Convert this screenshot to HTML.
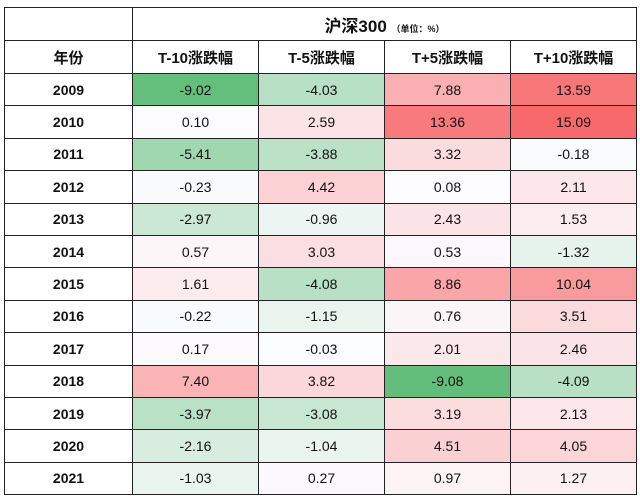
<!DOCTYPE html>
<html><head><meta charset="utf-8">
<style>
html,body{margin:0;padding:0;background:#fff;width:640px;height:500px;overflow:hidden}
#t{position:absolute;left:4px;top:7px;border-collapse:collapse;font-family:"Liberation Sans","Noto Sans CJK SC",sans-serif;color:#111;table-layout:fixed}
#t td{border:1px solid #222;text-align:center;padding:0;font-size:14px}
#t td.h{font-weight:bold;font-size:15px}
#t td.y{font-weight:bold;font-size:14px}
.small{font-size:9px;font-weight:bold}
</style></head><body>
<table id="t">
<colgroup><col style="width:128px"><col style="width:126px"><col style="width:126px"><col style="width:126px"><col style="width:126px"></colgroup>
<tr style="height:33px"><td></td><td colspan="4" class="h" style="font-size:17px">沪深300 <span class="small">（单位：%）</span></td></tr>
<tr style="height:33px" id="hdr"><td class="h">年份</td></tr>
</table>
<script>
const years=['2009','2010','2011','2012','2013','2014','2015','2016','2017','2018','2019','2020','2021'];
const columns=['T-10涨跌幅','T-5涨跌幅','T+5涨跌幅','T+10涨跌幅'];
const t10=[-9.02,0.10,-5.41,-0.23,-2.97,0.57,1.61,-0.22,0.17,7.40,-3.97,-2.16,-1.03];
const t5=[-4.03,2.59,-3.88,4.42,-0.96,3.03,-4.08,-1.15,-0.03,3.82,-3.08,-1.04,0.27];
const tp5=[7.88,13.36,3.32,0.08,2.43,0.53,8.86,0.76,2.01,-9.08,3.19,4.51,0.97];
const tp10=[13.59,15.09,-0.18,2.11,1.53,-1.32,10.04,3.51,2.46,-4.09,2.13,4.05,1.27];
const series=[t10,t5,tp5,tp10];
const all=series.flat();
const mn=Math.min(...all),mx=Math.max(...all);
const mid=[252,252,255],lo=[99,190,123],hi=[248,105,107];
function color(v){
  const f=v<0?v/mn:v/mx,c=v<0?lo:hi;
  const r=mid.map((m,i)=>Math.round(m+(c[i]-m)*f));
  return 'rgb('+r.join(',')+')';
}
const tbl=document.getElementById('t');
const hdr=document.getElementById('hdr');
columns.forEach((c,i)=>{
  const td=document.createElement('td');
  td.className='h';td.textContent=c;
  
  
  hdr.appendChild(td);
});
years.forEach((y,r)=>{
  const tr=document.createElement('tr');
  tr.style.height='32.4px';
  
  
  const yt=document.createElement('td');
  yt.className='y';yt.textContent=y;
  
  
  tr.appendChild(yt);
  series.forEach((s,ci)=>{
    const td=document.createElement('td');
    td.textContent=s[r].toFixed(2);
    td.style.background=color(s[r]);
    
    
    tr.appendChild(td);
  });
  tbl.appendChild(tr);
});
</script>
</body></html>
